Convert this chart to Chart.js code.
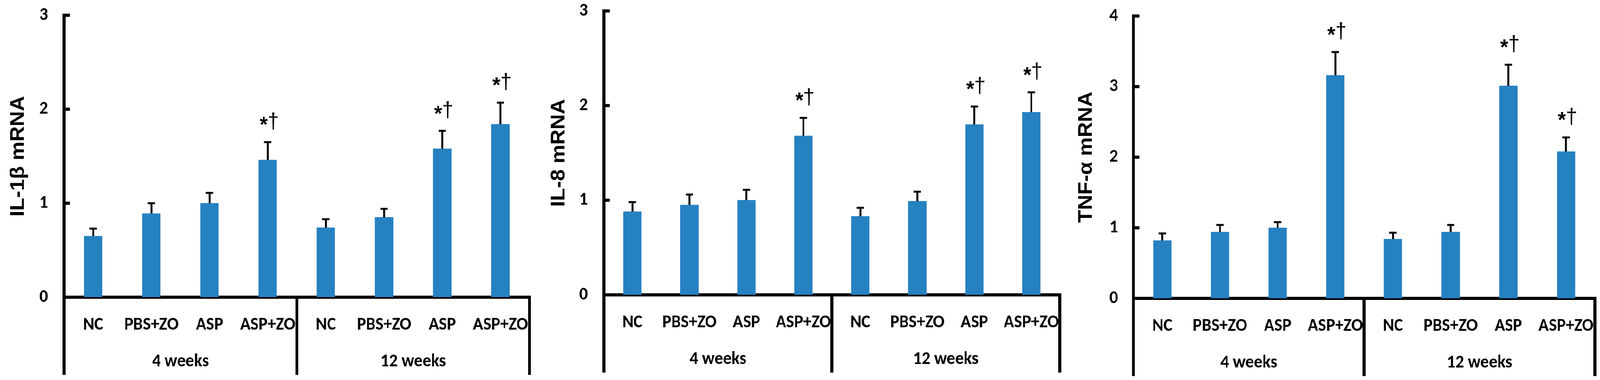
<!DOCTYPE html>
<html>
<head>
<meta charset="utf-8">
<script src="https://cdn.jsdelivr.net/npm/chart.js@4.4.1/dist/chart.umd.min.js"></script>
<style>
  html, body { margin: 0; padding: 0; background: #fff; overflow: hidden; }
  #wrap { position: relative; width: 4342px; height: 973px; transform-origin: 0 0; }
  .panel { position: absolute; top: 0; height: 973px; }
</style>
</head>
<body>
<div id="wrap">
  <div class="panel" style="left:0px;width:1447px"><canvas id="c1" width="1447" height="973"></canvas></div>
  <div class="panel" style="left:1447px;width:1447px"><canvas id="c2" width="1447" height="973"></canvas></div>
  <div class="panel" style="left:2894px;width:1448px"><canvas id="c3" width="1448" height="973"></canvas></div>
</div>
<script>
// treatments and time points
const treatments = ['NC', 'PBS+ZO', 'ASP', 'ASP+ZO'];
const timepoints = ['4 weeks', '12 weeks'];

// IL-1β
const il1bMean = [0.65, 0.89, 1.00, 1.46, 0.74, 0.85, 1.58, 1.84];
const il1bSd   = [0.08, 0.11, 0.11, 0.19, 0.09, 0.09, 0.19, 0.23];
const il1bSig  = ['', '', '', '*†', '', '', '*†', '*†'];

// IL-8
const il8Mean = [0.88, 0.95, 1.00, 1.68, 0.83, 0.99, 1.80, 1.93];
const il8Sd   = [0.10, 0.11, 0.11, 0.19, 0.09, 0.10, 0.19, 0.21];
const il8Sig  = ['', '', '', '*†', '', '', '*†', '*†'];

// TNF-α
const tnfMean = [0.82, 0.94, 1.00, 3.16, 0.84, 0.94, 3.01, 2.08];
const tnfSd   = [0.10, 0.10, 0.08, 0.33, 0.09, 0.10, 0.30, 0.20];
const tnfSig  = ['', '', '', '*†', '', '', '*†', '*†'];

const yTicks3 = [0, 1, 2, 3];
const yTicks4 = [0, 1, 2, 3, 4];

const labels = timepoints.flatMap(() => treatments);

// the window may be narrower than the figure, so squeeze the whole figure to fit
const wrap = document.getElementById('wrap');
const sx = (window.innerWidth || 4342) / 4342;
const sy = (window.innerHeight || 973) / 973;
wrap.style.transform = 'scale(' + sx + ',' + sy + ')';

const calibri = 'Carlito, Lato, sans-serif';
const sans = '"Liberation Sans", Arial, sans-serif';

const extras = {
  id: 'extras',
  afterDatasetsDraw(chart, args, opts) {
    const { ctx, scales: { x, y } } = chart;
    const data = chart.data.datasets[0].data;
    ctx.save();
    ctx.strokeStyle = '#000';
    ctx.fillStyle = '#000';
    data.forEach((v, i) => {
      const px = x.getPixelForValue(i);
      const top = y.getPixelForValue(v);
      const hi = y.getPixelForValue(v + opts.sd[i]);
      ctx.lineWidth = 5;
      ctx.beginPath(); ctx.moveTo(px, top); ctx.lineTo(px, hi); ctx.stroke();
      ctx.beginPath(); ctx.moveTo(px - 10, hi); ctx.lineTo(px + 10, hi); ctx.stroke();
      if (opts.sig[i]) {
        const cy = hi - 54;
        ctx.textAlign = 'center';
        ctx.textBaseline = 'alphabetic';
        ctx.font = 'bold 56px ' + sans;
        let m = ctx.measureText('*');
        ctx.fillText('*', px - 11, cy + (m.actualBoundingBoxAscent - m.actualBoundingBoxDescent) / 2);
        ctx.font = '56px ' + sans;
        m = ctx.measureText('†');
        ctx.fillText('†', px + 15, cy + (m.actualBoundingBoxAscent - m.actualBoundingBoxDescent) / 2);
      }
    });
    ctx.restore();
  },
  afterDraw(chart) {
    const { ctx, scales: { x, y } } = chart;
    ctx.save();
    ctx.strokeStyle = '#000';
    ctx.fillStyle = '#000';
    // tick marks point inwards
    ctx.lineWidth = 8;
    y.ticks.forEach(t => {
      const py = y.getPixelForValue(t.value);
      ctx.beginPath(); ctx.moveTo(x.left, py); ctx.lineTo(x.left + 16, py); ctx.stroke();
    });
    // vertical lines under the axis that split the time points
    const zero = y.getPixelForValue(0);
    const n = treatments.length;
    const half = (x.getPixelForValue(1) - x.getPixelForValue(0)) / 2;
    for (let g = 0; g <= timepoints.length; g++) {
      const bx = g === 0 ? x.left : (g === timepoints.length ? x.right : x.getPixelForValue(g * n) - half);
      ctx.beginPath(); ctx.moveTo(bx, zero - 4); ctx.lineTo(bx, zero + 199); ctx.stroke();
    }
    ctx.font = 'bold 46px ' + calibri;
    ctx.textAlign = 'center';
    ctx.textBaseline = 'alphabetic';
    timepoints.forEach((tp, g) => {
      const a = x.getPixelForValue(g * n) - half;
      const b = x.getPixelForValue(g * n + n - 1) + half;
      ctx.fillText(tp, (a + b) / 2, zero + 177);
    });
    ctx.restore();
  }
};

function makePanel(id, title, mean, sd, sig, yTicks, geo) {
  const H = 973;
  new Chart(document.getElementById(id), {
    type: 'bar',
    data: {
      labels: labels,
      datasets: [{ data: mean, backgroundColor: '#2681C1', borderWidth: 0, barThickness: 49 }]
    },
    options: {
      responsive: false,
      animation: false,
      layout: { padding: { left: 0, right: geo.padRight, top: geo.top, bottom: 0 } },
      plugins: {
        legend: { display: false },
        tooltip: { enabled: false },
        extras: { sd: sd, sig: sig }
      },
      scales: {
        x: {
          z: 1,
          grid: { display: true, drawOnChartArea: false, drawTicks: true, tickLength: 44, color: 'rgba(0,0,0,0)' },
          border: { display: true, color: '#000', width: 8 },
          ticks: { color: '#000', padding: 0, maxRotation: 0, autoSkip: false,
                   font: { family: calibri, size: 46, weight: 'bold' } },
          afterFit(scale) { scale.height = H - geo.zero; }
        },
        y: {
          z: 1,
          min: yTicks[0],
          max: yTicks[yTicks.length - 1],
          grid: { display: true, drawOnChartArea: false, drawTicks: true, tickLength: geo.tickPad, color: 'rgba(0,0,0,0)' },
          border: { display: true, color: '#000', width: 8 },
          afterBuildTicks(scale) { scale.ticks = yTicks.map(v => ({ value: v })); },
          ticks: { color: '#000', padding: 0, font: { family: calibri, size: 46, weight: 'bold' } },
          title: { display: true, text: title, color: '#000',
                   padding: { top: geo.titleX - 32, bottom: 0 },
                   font: { family: sans, size: 54, weight: 'bold' } },
          afterFit(scale) { scale.width = geo.axisX; }
        }
      }
    },
    plugins: [extras]
  });
}

makePanel('c1', 'IL-1β mRNA', il1bMean, il1bSd, il1bSig, yTicks3,
  { axisX: 174, padRight: 10, top: 39, zero: 761, titleX: 50, tickPad: 44 });
makePanel('c2', 'IL-8 mRNA', il8Mean, il8Sd, il8Sig, yTicks3,
  { axisX: 192, padRight: 18, top: 28, zero: 755, titleX: 70, tickPad: 44 });
makePanel('c3', 'TNF-α mRNA', tnfMean, tnfSd, tnfSig, yTicks4,
  { axisX: 182, padRight: 14, top: 41, zero: 764, titleX: 54, tickPad: 42 });
</script>
</body>
</html>
